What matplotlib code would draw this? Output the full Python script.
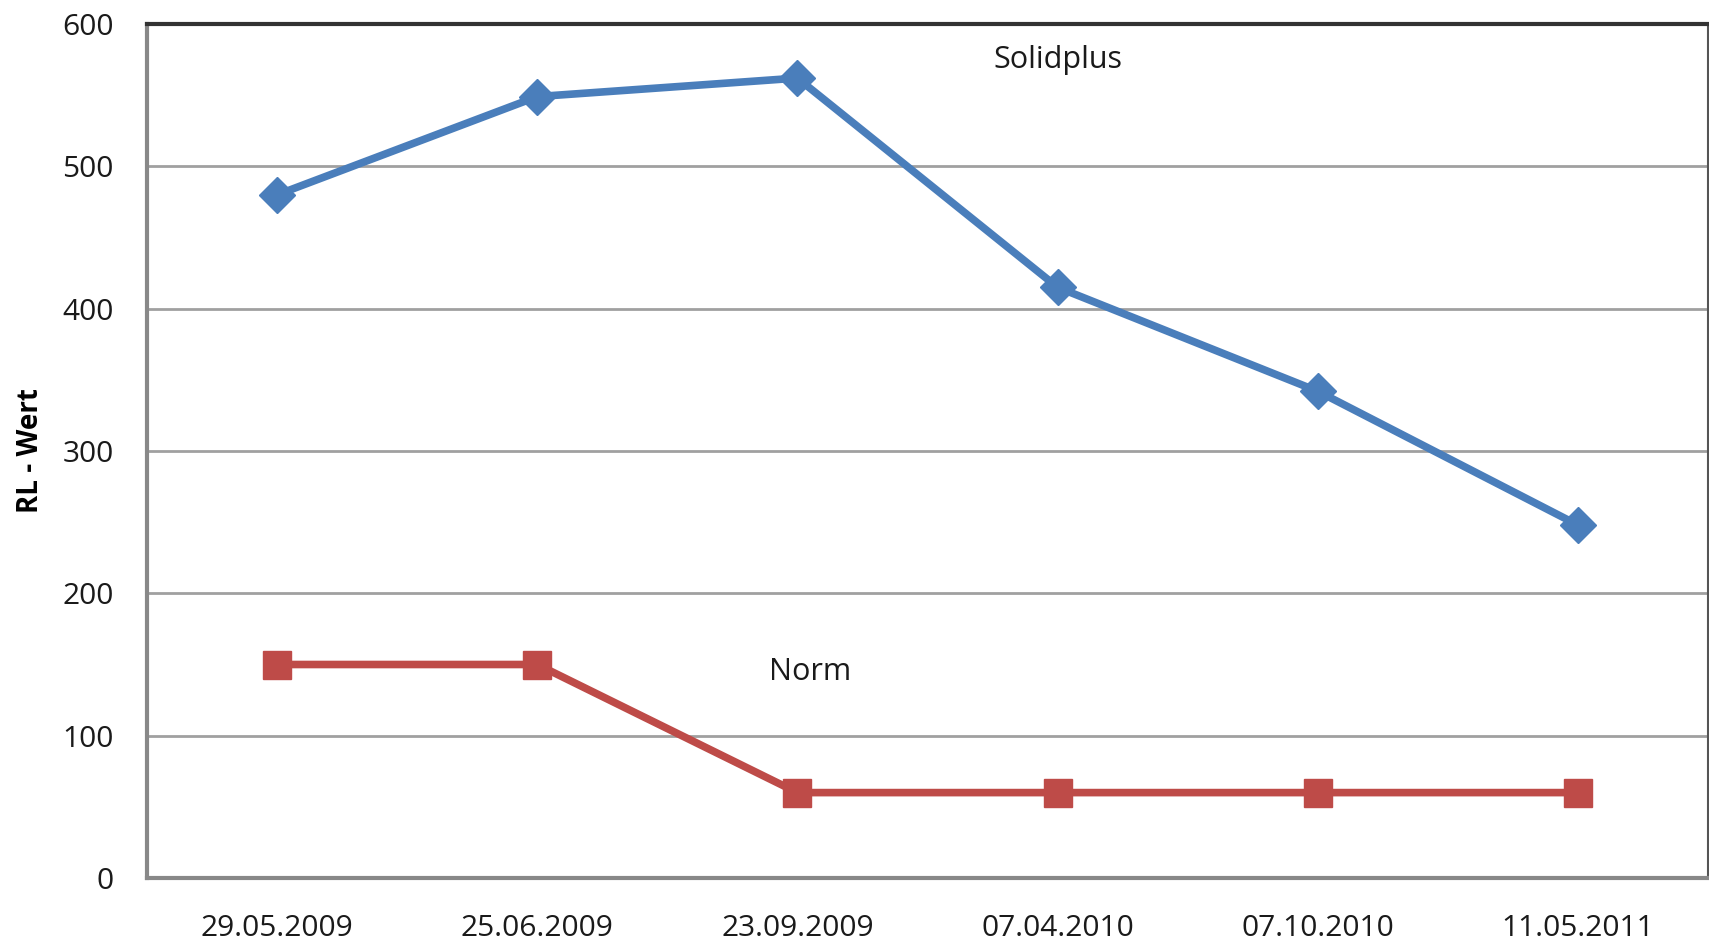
import matplotlib
matplotlib.use("Agg")
import matplotlib.pyplot as plt

dates = ["29.05.2009", "25.06.2009", "23.09.2009", "07.04.2010", "07.10.2010", "11.05.2011"]
solidplus = [480, 549, 562, 415, 342, 248]
norm = [150, 150, 60, 60, 60, 60]

plt.rcParams['font.family'] = ['Open Sans', 'DejaVu Sans']

fig = plt.figure(figsize=(17.09, 9.44), dpi=100)
ax = fig.add_axes([147 / 1709, 1 - 878 / 944, (1708 - 147) / 1709, (878 - 24) / 944])

x = range(len(dates))
ax.plot(x, solidplus, color='#4A7EBB', lw=5.5, marker='D', ms=18, zorder=3)
ax.plot(x, norm, color='#BE4B48', lw=5.5, marker='s', ms=20, zorder=3)

ax.set_xlim(-0.5, len(dates) - 0.5)
ax.set_ylim(0, 600)
ax.set_yticks(range(0, 601, 100))
ax.set_xticks(list(x))
ax.set_xticklabels(dates)
ax.grid(axis='y', color='#A0A0A0', lw=2)
ax.set_axisbelow(True)
ax.tick_params(axis='both', length=0, labelsize=21.5, colors='#1a1a1a')
ax.tick_params(axis='x', pad=26)
ax.tick_params(axis='y', pad=24)

for side in ['left', 'bottom']:
    ax.spines[side].set_color('#888888')
    ax.spines[side].set_linewidth(3)
ax.spines['top'].set_color('#333333')
ax.spines['top'].set_linewidth(3)
ax.spines['right'].set_color('#555555')
ax.spines['right'].set_linewidth(1.5)

ax.set_ylabel('RL - Wert', fontsize=20, fontweight='bold', labelpad=12)

ax.text(3, 575, 'Solidplus', fontsize=22, ha='center', va='center', color='#1a1a1a')
ax.text(2.05, 145, 'Norm', fontsize=22, ha='center', va='center', color='#1a1a1a')

fig.savefig('out.png', dpi=100)
